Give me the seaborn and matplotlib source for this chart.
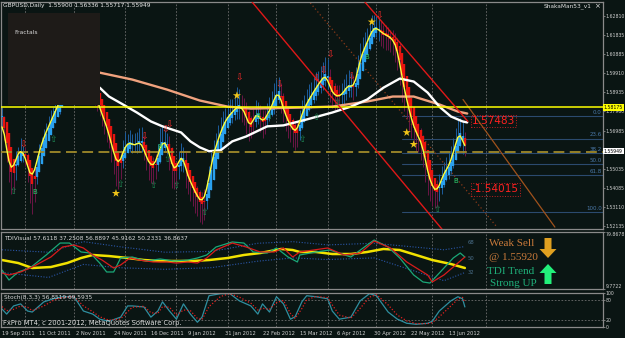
import numpy as np
import pandas as pd
import matplotlib
matplotlib.use("Agg")
import matplotlib.pyplot as plt
import seaborn as sns
from matplotlib.patches import Rectangle, Polygon

# ---------------- data ----------------
closes = [
    1.5745, 1.5690, 1.5600, 1.5530, 1.5500, 1.5510, 1.5560, 1.5585, 1.5600, 1.5590,
    1.5560, 1.5520, 1.5480, 1.5455, 1.5500, 1.5545, 1.5590, 1.5630, 1.5665, 1.5690,
    1.5720, 1.5745, 1.5770, 1.5800, 1.5825, 1.5850, 1.5880, 1.5930, 1.5990, 1.6040,
    1.6080, 1.6000, 1.5960, 1.5990, 1.6020, 1.6010, 1.6000, 1.5975, 1.5950, 1.5915,
    1.5880, 1.5850, 1.5820, 1.5780, 1.5750, 1.5720, 1.5680, 1.5630, 1.5590, 1.5550,
    1.5525, 1.5550, 1.5590, 1.5620, 1.5630, 1.5640, 1.5630, 1.5620, 1.5630, 1.5645,
    1.5630, 1.5600, 1.5570, 1.5540, 1.5520, 1.5525, 1.5535, 1.5570, 1.5620, 1.5640,
    1.5635, 1.5630, 1.5580, 1.5520, 1.5505, 1.5505, 1.5540, 1.5575, 1.5560, 1.5500,
    1.5470, 1.5440, 1.5415, 1.5390, 1.5365, 1.5350, 1.5335, 1.5360, 1.5400, 1.5460,
    1.5530, 1.5580, 1.5620, 1.5655, 1.5690, 1.5720, 1.5745, 1.5765, 1.5780, 1.5790,
    1.5805, 1.5820, 1.5818, 1.5812, 1.5805, 1.5770, 1.5725, 1.5720, 1.5750, 1.5785,
    1.5780, 1.5760, 1.5740, 1.5755, 1.5780, 1.5800, 1.5820, 1.5855, 1.5890, 1.5890,
    1.5850, 1.5810, 1.5775, 1.5750, 1.5725, 1.5705, 1.5695, 1.5700, 1.5745, 1.5785,
    1.5810, 1.5835, 1.5855, 1.5875, 1.5895, 1.5915, 1.5930, 1.5950, 1.5965, 1.5980,
    1.5960, 1.5915, 1.5895, 1.5880, 1.5870, 1.5875, 1.5880, 1.5895, 1.5915, 1.5930,
    1.5925, 1.5915, 1.5950, 1.6005, 1.6060, 1.6090, 1.6120, 1.6145, 1.6175, 1.6205,
    1.6215, 1.6220, 1.6210, 1.6195, 1.6190, 1.6185, 1.6175, 1.6170, 1.6160, 1.6135,
    1.6105, 1.6040, 1.5965, 1.5910, 1.5855, 1.5805, 1.5760, 1.5720, 1.5690, 1.5670,
    1.5640, 1.5615, 1.5550, 1.5490, 1.5450, 1.5415, 1.5400, 1.5390, 1.5420, 1.5455,
    1.5480, 1.5500, 1.5520, 1.5545, 1.5590, 1.5630, 1.5665, 1.5700, 1.5650, 1.55949,
]
first_open = 1.5790
wick_up_pips = [
    30, 25, 20, 15, 20, 25, 35, 30, 60, 20, 25, 25, 20, 30, 25, 30, 40, 35, 40, 45,
    50, 60, 50, 70, 75, 40, 50, 60, 70, 60, 80, 50, 40, 50, 60, 40, 30, 35, 30, 30,
    30, 30, 30, 25, 30, 20, 25, 20, 25, 30, 40, 50, 60, 70, 50, 60, 40, 55, 60, 65,
    70, 40, 30, 30, 35, 40, 45, 60, 90, 85, 60, 50, 40, 35, 30, 40, 55, 60, 40, 30,
    30, 25, 30, 25, 30, 35, 40, 45, 50, 60, 60, 70, 65, 70, 75, 80, 70, 75, 80, 70,
    80, 100, 90, 60, 50, 40, 35, 45, 60, 70, 60, 50, 45, 50, 60, 70, 80, 85, 70, 80,
    50, 40, 35, 30, 30, 35, 40, 45, 60, 70, 70, 75, 80, 70, 75, 80, 70, 75, 80, 90,
    80, 50, 40, 45, 50, 55, 60, 65, 70, 75, 60, 55, 70, 75, 80, 85, 80, 75, 70, 80,
    70, 60, 50, 45, 40, 45, 40, 35, 40, 35, 30, 35, 30, 35, 30, 35, 40, 45, 40, 45,
    40, 35, 30, 30, 35, 40, 45, 50, 60, 65, 60, 65, 70, 75, 70, 80, 85, 60, 45, 39,
]
wick_dn_pips = [
    25, 40, 60, 90, 120, 110, 60, 40, 45, 50, 40, 80, 150, 180, 120, 70, 40, 30, 30, 25,
    30, 25, 30, 25, 30, 40, 30, 40, 30, 50, 40, 60, 50, 40, 30, 40, 50, 40, 50, 40,
    50, 50, 50, 60, 70, 80, 70, 90, 110, 130, 120, 70, 40, 30, 35, 40, 45, 30, 35, 40,
    40, 50, 70, 90, 85, 90, 70, 40, 35, 40, 40, 50, 80, 110, 100, 80, 50, 45, 70, 90,
    90, 100, 100, 110, 100, 115, 110, 90, 60, 40, 40, 35, 40, 30, 35, 30, 40, 35, 40, 45,
    40, 50, 60, 70, 80, 90, 80, 60, 40, 35, 50, 70, 80, 60, 40, 35, 30, 35, 40, 50,
    60, 70, 80, 90, 85, 90, 95, 80, 50, 40, 35, 40, 35, 40, 35, 40, 35, 40, 45, 40,
    50, 70, 80, 75, 70, 60, 50, 45, 40, 45, 55, 60, 40, 35, 40, 35, 40, 35, 40, 35,
    40, 45, 60, 70, 75, 80, 70, 75, 80, 90, 100, 110, 120, 110, 100, 110, 100, 90, 95, 80,
    90, 100, 110, 120, 110, 100, 95, 80, 50, 40, 40, 35, 45, 40, 35, 40, 35, 50, 70, 23,
]
header_ohlc = [1.55900, 1.56336, 1.55717, 1.55949]

white_ma = [(42, 1.5916), (46, 1.5871), (52, 1.5831), (58, 1.5790), (64, 1.5745), (69, 1.5720),
            (77, 1.5689), (81, 1.5644), (85, 1.5614), (89, 1.5594), (94, 1.5599), (99, 1.5644),
            (105, 1.5669), (114, 1.5720), (121, 1.5725), (131, 1.5755), (142, 1.5790), (150, 1.5820),
            (157, 1.5856), (164, 1.5916), (171, 1.5962), (177, 1.5947), (183, 1.5891), (188, 1.5820),
            (193, 1.5770), (198, 1.5745), (200, 1.5740)]
salmon_ma = [(42, 1.5992), (56, 1.5957), (71, 1.5906), (85, 1.5851), (97, 1.5820), (107, 1.5810),
             (128, 1.5815), (142, 1.5820), (157, 1.5846), (168, 1.5871), (177, 1.5871), (188, 1.5831),
             (196, 1.5795), (200, 1.5785)]

frac_dn = [(9, 1.5623), (61, 1.5664), (70, 1.5700), (72, 1.5729), (102, 1.5966), (119, 1.5930),
           (135, 1.5960), (138, 1.6000), (141, 1.6083), (150, 1.5970), (162, 1.6279)]
frac_up = [(5, 1.5391), (22, 1.5654), (51, 1.5427), (65, 1.5422), (71, 1.5553), (75, 1.5422),
           (87, 1.5285), (115, 1.5770), (129, 1.5654), (135, 1.5765), (144, 1.5840), (187, 1.5300)]
b_marks = [(14, 1.5386), (68, 1.5613), (110, 1.5770), (157, 1.6073), (195, 1.5442)]
stars = [(49, 1.5381), (101, 1.5876), (159, 1.6249), (174, 1.5689), (177, 1.5629)]

red_lines = [((107.5, 1.6350), (189.2, 1.5199)), ((156.0, 1.6350), (200.3, 1.5745))]
brown_solid = ((198.2, 1.5856), (237.7, 1.5210))
brown_dotted = ((131.5, 1.6360), (212.8, 1.5210))

yellow_level = 1.58175
sell_level = 1.55920
last_price = 1.55949
fib_top, fib_bottom = 1.5773, 1.5285
fib_levels = [0.0, 23.6, 38.2, 50.0, 61.8, 100.0]
swing_hi_label, swing_lo_label = 1.57483, 1.54015

price_tick_labels = ["1.62810", "1.61835", "1.60885", "1.59910", "1.58935", "1.57960",
                     "1.56985", "1.56010", "1.55035", "1.54085", "1.53110", "1.52135"]
date_labels = ["19 Sep 2011", "11 Oct 2011", "2 Nov 2011", "24 Nov 2011", "16 Dec 2011",
               "9 Jan 2012", "31 Jan 2012", "22 Feb 2012", "15 Mar 2012", "6 Apr 2012",
               "30 Apr 2012", "22 May 2012", "13 Jun 2012"]

tdi_base = [(0, 45.4), (7, 41.7), (13, 35.6), (21, 36.8), (28, 41.7), (34, 47.9), (39, 51.6),
            (46, 50.3), (54, 47.9), (61, 45.4), (68, 44.2), (75, 44.2), (82, 44.2), (89, 45.4),
            (97, 47.9), (104, 51.6), (111, 54.0), (120, 59.0), (125, 57.7), (128, 55.3),
            (135, 55.3), (142, 52.8), (150, 52.8), (157, 55.3), (164, 59.0), (171, 57.7),
            (178, 51.6), (185, 45.4), (193, 40.5), (199, 35.6)]
tdi_signal = [(0, 29.4), (3, 27.0), (8, 30.7), (13, 36.8), (21, 49.1), (26, 61.4), (31, 63.9),
              (35, 60.2), (39, 51.6), (43, 45.4), (48, 35.6), (51, 39.3), (55, 47.9), (59, 45.4),
              (65, 43.0), (71, 43.0), (75, 41.7), (80, 43.0), (84, 41.7), (88, 47.9), (92, 57.7),
              (99, 66.3), (105, 61.4), (111, 55.3), (117, 55.3), (121, 60.2), (125, 49.1),
              (128, 55.3), (140, 60.2), (147, 51.6), (154, 54.0), (160, 68.8), (167, 60.2),
              (174, 43.0), (183, 27.0), (185, 18.4), (190, 27.0), (196, 41.7), (199, 49.1)]
tdi_rsi = [(0, 33.1), (3, 20.8), (7, 30.7), (12, 35.6), (19, 51.6), (25, 66.3), (29, 66.3),
           (34, 55.3), (38, 54.0), (42, 41.7), (45, 30.7), (48, 30.7), (51, 47.9), (56, 49.1),
           (62, 44.2), (68, 46.7), (74, 44.2), (80, 45.4), (84, 47.9), (88, 51.6), (92, 61.4),
           (99, 67.6), (104, 66.3), (108, 55.3), (114, 54.0), (118, 60.2), (123, 49.1),
           (127, 43.0), (128, 51.6), (135, 55.3), (141, 57.7), (150, 49.1), (157, 63.9),
           (160, 70.0), (166, 61.4), (171, 47.9), (177, 27.0), (181, 18.4), (184, 17.1),
           (188, 29.4), (194, 47.9), (197, 54.0), (199, 49.1)]
tdi_upper = [(0, 58), (20, 55), (35, 68), (50, 62), (70, 55), (90, 56), (110, 66), (125, 68),
             (140, 64), (160, 66), (175, 62), (190, 58), (199, 62)]
tdi_lower = [(0, 30), (20, 24), (35, 40), (50, 36), (70, 34), (90, 36), (110, 44), (125, 48),
             (140, 46), (160, 48), (175, 34), (190, 20), (199, 30)]
tdi_range = (9.7722, 79.8678)
tdi_header = "TDIVisual 57.6118 37.2508 56.8897 45.9162 50.2331 36.8637"

stoch_main = [(0, 53), (2, 38), (5, 62), (8, 68), (11, 47), (13, 44), (18, 74), (22, 83), (26, 89),
              (31, 89), (35, 47), (39, 38), (42, 23), (46, 17), (51, 29), (54, 62), (56, 62),
              (61, 59), (64, 29), (67, 47), (69, 74), (72, 47), (75, 23), (78, 68), (81, 38),
              (84, 14), (86, 29), (89, 92), (94, 98), (98, 98), (102, 77), (107, 62), (110, 38),
              (112, 68), (115, 44), (118, 89), (121, 68), (124, 23), (126, 30), (129, 75),
              (131, 92), (135, 89), (140, 83), (142, 47), (145, 23), (150, 29), (154, 77),
              (158, 98), (161, 92), (166, 44), (170, 23), (174, 11), (178, 8), (183, 11),
              (185, 17), (188, 47), (193, 77), (196, 89), (198, 83), (199, 59)]
stoch_signal = [(0, 60), (2, 48), (5, 52), (8, 62), (11, 58), (13, 48), (18, 62), (22, 78), (26, 87),
                (31, 89), (35, 62), (39, 45), (42, 30), (46, 20), (51, 24), (54, 45), (56, 58),
                (61, 61), (64, 42), (67, 40), (69, 60), (72, 58), (75, 35), (78, 50), (81, 48),
                (84, 25), (86, 22), (89, 60), (94, 90), (98, 98), (102, 88), (107, 70), (110, 50),
                (112, 55), (115, 52), (118, 72), (121, 78), (124, 40), (126, 25), (129, 55),
                (131, 80), (135, 90), (140, 86), (142, 65), (145, 35), (150, 26), (154, 55),
                (158, 88), (161, 95), (166, 65), (170, 35), (174, 18), (178, 10), (183, 10),
                (185, 13), (188, 30), (193, 62), (196, 82), (198, 87), (199, 72)]
stoch_header = "Stoch(8,3,3) 56.8519 69.5935"
stoch_levels = [20, 80]

# ---------------- styling / layout ----------------
W, H = 625, 338
BG = "#0a1513"
GRID = "#6e6e6e"
FRAME = "#8a8a8a"
TXT = "#cfcfcf"
AXFS = 3.3

sns.set_theme(style="dark", rc={"axes.facecolor": BG, "figure.facecolor": BG,
                                "axes.edgecolor": FRAME, "text.color": TXT})
plt.rcParams["font.family"] = ["DejaVu Sans"]

fig = plt.figure(figsize=(W / 100, H / 100), dpi=100)
fig.patch.set_facecolor(BG)


def px_axes(x0, y0, x1, y1):
    return fig.add_axes([x0 / W, 1 - y1 / H, (x1 - x0) / W, (y1 - y0) / H])


def fx(x):
    return x / W


def fy(y):
    return 1 - y / H


ax = px_axes(1, 2, 603, 229)
tdi = px_axes(1, 232, 603, 289)
st = px_axes(1, 293, 603, 327)

PX_PER_BAR = 2.326
XLIM = ((1 - 2) / PX_PER_BAR, (603 - 2) / PX_PER_BAR)
grid_bars = [10, 31, 53, 75, 97, 118, 140, 161, 185, 208]

for a in (ax, tdi, st):
    a.set_facecolor(BG)
    a.set_xlim(*XLIM)
    for s in a.spines.values():
        s.set_color(FRAME)
        s.set_linewidth(0.9)
    a.grid(False)
    for gb in grid_bars:
        a.axvline(gb, color=GRID, lw=0.6, ls=(0, (2, 2)), zorder=0.5)
    a.yaxis.tick_right()
    a.tick_params(axis="y", colors=FRAME, labelcolor=TXT, labelsize=AXFS, length=1.5, width=0.6, pad=0.6)
    a.tick_params(axis="x", colors=FRAME, labelcolor=TXT, labelsize=3.7, length=2, width=0.6, pad=0.8)

# ---------------- main price panel ----------------
c = np.array(closes)
n = len(c)
idx = np.arange(n)
o = np.concatenate([[first_open], c[:-1]])
hi = np.maximum(o, c) + np.array(wick_up_pips) * 1e-4
lo = np.minimum(o, c) - np.array(wick_dn_pips) * 1e-4
# Heiken Ashi transform
ha_c = (o + hi + lo + c) / 4
ha_o = np.zeros(n)
ha_o[0] = (o[0] + c[0]) / 2
for i in range(1, n):
    ha_o[i] = (ha_o[i - 1] + ha_c[i - 1]) / 2
ha_h = np.maximum.reduce([hi, ha_o, ha_c])
ha_l = np.minimum.reduce([lo, ha_o, ha_c])
up = ha_c >= ha_o

ax.set_ylim(1.520023, 1.634977)

ax.vlines(idx[up], ha_l[up], ha_h[up], colors="#1d5d9c", lw=0.7, zorder=2)
ax.vlines(idx[~up], ha_l[~up], ha_h[~up], colors="#6b1645", lw=0.7, zorder=2)
body_lo = np.minimum(ha_o, ha_c)
body_hi = np.maximum(np.maximum(ha_o, ha_c), body_lo + 0.0004)
ax.vlines(idx[up], body_lo[up], body_hi[up], colors="#2aa0ee", lw=1.7, zorder=3)
ax.vlines(idx[~up], body_lo[~up], body_hi[~up], colors="#e8150f", lw=1.7, zorder=3)

df_main = pd.DataFrame({"bar": idx, "close": c})
df_main["smooth"] = df_main["close"].rolling(3, center=True, min_periods=1).mean()

wm = pd.DataFrame(white_ma, columns=["bar", "p"])
sm = pd.DataFrame(salmon_ma, columns=["bar", "p"])
sns.lineplot(data=sm, x="bar", y="p", ax=ax, color="#f0a27e", lw=1.7, estimator=None, sort=False, zorder=4)
sns.lineplot(data=wm, x="bar", y="p", ax=ax, color="#ffffff", lw=1.7, estimator=None, sort=False, zorder=4)
sns.lineplot(data=df_main, x="bar", y="smooth", ax=ax, color="#ffff3a", lw=1.0, estimator=None,
             sort=False, zorder=5)

# horizontal levels
ax.axhline(yellow_level, color="#ffff00", lw=1.1, zorder=4)
ax.axhline(sell_level, color="#a08a2a", lw=1.3, ls=(0, (6, 3)), zorder=4)

# fibonacci
for lv in fib_levels:
    p = fib_top - (fib_top - fib_bottom) * lv / 100
    ax.plot([172, XLIM[1]], [p, p], color="#2b4a6e", lw=0.8, zorder=1.5)
    ax.text(XLIM[1] - 0.6, p + 0.0006, f"{lv:.1f}", color="#4a78a8", fontsize=4.0,
            ha="right", va="bottom", zorder=6)

# trend lines
for (x0, y0), (x1, y1) in red_lines:
    ax.plot([x0, x1], [y0, y1], color="#e01818", lw=1.0, zorder=4, clip_on=True)
ax.plot([brown_solid[0][0], brown_solid[1][0]], [brown_solid[0][1], brown_solid[1][1]],
        color="#a0521c", lw=0.9, zorder=2)
ax.plot([brown_dotted[0][0], brown_dotted[1][0]], [brown_dotted[0][1], brown_dotted[1][1]],
        color="#8a3a18", lw=0.9, ls=(0, (1, 2)), zorder=2)

# fractals, signals, stars
for b, p in frac_dn:
    ax.text(b, p, "\u21e9", color="#ff2a2a", fontsize=6.5, ha="center", va="center", zorder=6)
for b, p in frac_up:
    ax.text(b, p, "\u21e7", color="#1f8a55", fontsize=6.5, ha="center", va="center", zorder=6)
for b, p in b_marks:
    ax.text(b, p, "B", color="#2fd070", fontsize=5.0, ha="center", va="center", zorder=6)
sdf = pd.DataFrame(stars, columns=["bar", "p"])
sns.scatterplot(data=sdf, x="bar", y="p", ax=ax, marker="*", s=38, color="#f0c419",
                edgecolor="none", zorder=7, legend=False)

# swing labels
for val, dash in ((swing_hi_label, ""), (swing_lo_label, "-")):
    ax.text(202.0, val, f"{dash}{val:.5f}", color="#ff2020", fontsize=7.6,
            ha="left", va="center", zorder=8,
            bbox=dict(boxstyle="square,pad=0.12", fc="none", ec="#c02020", lw=0.7, ls=":"))

# price axis
ax.set_yticks([float(t) for t in price_tick_labels])
ax.set_yticklabels(price_tick_labels)
ax.set_xticks([])
for val, fc in ((yellow_level, "#ffff00"), (last_price, "#ffffff")):
    ax.text(XLIM[1] + 0.4, val, f"{val:.5f}", color="#000000", fontsize=AXFS, ha="left", va="center",
            zorder=9, clip_on=False,
            bbox=dict(boxstyle="square,pad=0.2", fc=fc, ec="none"))

# ---------------- TDI panel ----------------
tdi.set_ylim(*tdi_range)
for data, col, lw, ls in ((tdi_upper, "#2a56a8", 0.8, (0, (1, 1.5))),
                          (tdi_lower, "#2a56a8", 0.8, (0, (1, 1.5))),
                          (tdi_base, "#f2e200", 1.8, "-"),
                          (tdi_rsi, "#1aa878", 0.9, "-"),
                          (tdi_signal, "#d81c1c", 0.9, "-")):
    d = pd.DataFrame(data, columns=["bar", "v"])
    sns.lineplot(data=d, x="bar", y="v", ax=tdi, color=col, lw=lw, linestyle=ls,
                 estimator=None, sort=False)
tdi.set_yticks(list(tdi_range))
tdi.set_yticklabels([f"{tdi_range[0]:.4f}", f"{tdi_range[1]:.4f}"])
lbls = tdi.get_yticklabels()
lbls[0].set_va("bottom")
lbls[1].set_va("top")
tdi.set_xticks([])
for lvl, yy in (("68", 242), ("50", 258), ("32", 273)):
    fig.text(fx(471), fy(yy), lvl, color="#4a6f8a", fontsize=3.8, ha="center", va="center")

# ---------------- Stoch panel ----------------
st.set_ylim(0, 100)
for lvl in stoch_levels:
    st.axhline(lvl, color=GRID, lw=0.6, ls=(0, (2, 2)), zorder=0.5)
sdm = pd.DataFrame(stoch_main, columns=["bar", "v"])
sds = pd.DataFrame(stoch_signal, columns=["bar", "v"])
sns.lineplot(data=sdm, x="bar", y="v", ax=st, color="#2f8fa0", lw=0.9, estimator=None, sort=False)
sns.lineplot(data=sds, x="bar", y="v", ax=st, color="#e02020", lw=0.9, linestyle=(0, (1, 1.5)),
             estimator=None, sort=False)
st.set_yticks([100, 80, 20, 0])
st.set_yticklabels(["100", "80", "20", "0"])
st.set_xticks([16 * k for k in range(len(date_labels))])
st.set_xticklabels(date_labels)
for t in st.get_xticklabels():
    t.set_ha("left")

for a in (ax, tdi, st):
    a.set_xlabel("")
    a.set_ylabel("")
    a.set_xlim(*XLIM)

# ---------------- overlay texts ----------------
fig.text(fx(3), fy(6), "GBPUSD,Daily  " + " ".join(f"{v:.5f}" for v in header_ohlc),
         color="#e8e8e8", fontsize=4.2, ha="left", va="center")
fig.text(fx(591), fy(6), "ShakaMan53_v1", color="#e0e0e0", fontsize=4.2, ha="right", va="center")
fig.text(fx(597), fy(6), "\u00d7", color="#e0e0e0", fontsize=5, ha="center", va="center")

fig.add_artist(Rectangle((fx(8), fy(105)), 92 / W, 92 / H, transform=fig.transFigure,
                         facecolor="#1e1b18", edgecolor="none", zorder=5))
fig.text(fx(14), fy(32), "Fractals", color="#d8d8d8", fontsize=4.3, ha="left", va="center", zorder=6)

fig.text(fx(4), fy(238), tdi_header, color="#d8d8d8", fontsize=4.2, ha="left", va="center")
fig.text(fx(4), fy(297), stoch_header, color="#d8d8d8", fontsize=4.2, ha="left", va="center")
fig.text(fx(3), fy(323), "FxPro MT4, c 2001-2012, MetaQuotes Software Corp.", color="#dcdcdc",
         fontsize=4.9, ha="left", va="center")

serif = ["Liberation Serif", "DejaVu Serif"]
fig.text(fx(489), fy(243), "Weak Sell", color="#c8793a", fontsize=8, family=serif, ha="left", va="center")
fig.text(fx(489), fy(257), f"@ {sell_level:.5f}", color="#c8793a", fontsize=8, family=serif,
         ha="left", va="center")
fig.text(fx(487), fy(271), "TDI Trend", color="#1fb07a", fontsize=8, family=serif, ha="left", va="center")
fig.text(fx(490), fy(284), "Strong UP", color="#1fb07a", fontsize=8, family=serif, ha="left", va="center")


def arrow(cx, ytop, ybot, down, color):
    hw, sw = 8.5, 3.5
    if down:
        pts = [(cx - sw, ytop), (cx + sw, ytop), (cx + sw, ybot - 9), (cx + hw, ybot - 9),
               (cx, ybot), (cx - hw, ybot - 9), (cx - sw, ybot - 9)]
    else:
        pts = [(cx - sw, ybot), (cx + sw, ybot), (cx + sw, ytop + 9), (cx + hw, ytop + 9),
               (cx, ytop), (cx - hw, ytop + 9), (cx - sw, ytop + 9)]
    fig.add_artist(Polygon([(fx(x), fy(y)) for x, y in pts], closed=True, transform=fig.transFigure,
                           facecolor=color, edgecolor="none", zorder=6))


arrow(548, 238, 258, True, "#e0a020")
arrow(548, 264, 284, False, "#22f07a")

fig.savefig("out.png", dpi=100, facecolor=BG)
